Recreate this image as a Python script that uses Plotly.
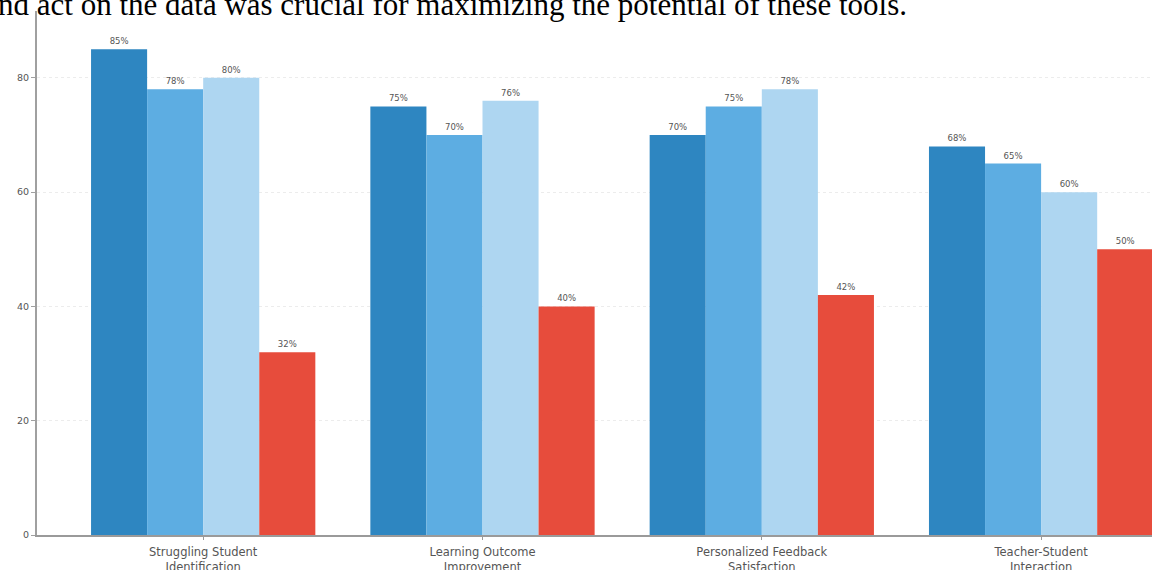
import plotly.graph_objects as go

categories = ["Struggling Student<br>Identification", "Learning Outcome<br>Improvement",
              "Personalized Feedback<br>Satisfaction", "Teacher-Student<br>Interaction"]
series_names = ["Series A", "Series B", "Series C", "Series D"]
series_a = [85, 75, 70, 68]
series_b = [78, 70, 75, 65]
series_c = [80, 76, 78, 60]
series_d = [32, 40, 42, 50]
colors = ["#2E86C1", "#5DADE2", "#AED6F1", "#E74C3C"]
y_ticks = [0, 20, 40, 60, 80]
top_text = "nd act on the data was crucial for maximizing the potential of these tools."

fig = go.Figure()
for name, vals, col in zip(series_names, [series_a, series_b, series_c, series_d], colors):
    fig.add_trace(go.Bar(
        x=categories, y=vals, name=name,
        marker=dict(color=col, line=dict(width=0)),
        text=[f"{v}%" for v in vals], textposition="outside",
        textfont=dict(size=8.5, color="#555555", family="DejaVu Sans"),
        cliponaxis=False,
    ))

fig.update_layout(
    width=1152, height=570,
    margin=dict(l=37, r=0, t=11, b=35, autoexpand=False),
    paper_bgcolor="white", plot_bgcolor="white",
    barmode="group", bargap=0.197, bargroupgap=0,
    showlegend=False,
    font=dict(family="DejaVu Sans", color="#555555"),
    xaxis=dict(
        type="category", range=[-0.595, 3.397], automargin=False,
        showline=True, linecolor="#9a9a9a", linewidth=1.5,
        ticks="outside", ticklen=3, tickcolor="#9a9a9a",
        ticklabelstandoff=2,
        tickfont=dict(size=11.5, color="#555555", family="DejaVu Sans"),
        showgrid=False, zeroline=False,
    ),
    yaxis=dict(
        range=[0, 91.7], tickvals=y_ticks, automargin=False,
        showline=True, linecolor="#a0a0a0", linewidth=2,
        ticks="outside", ticklen=4, tickcolor="#a0a0a0",
        tickfont=dict(size=9.5, color="#555555", family="DejaVu Sans"),
        showgrid=True, gridcolor="#ececec", gridwidth=1, griddash="dot",
        zeroline=False,
    ),
    annotations=[dict(
        text=top_text, xref="paper", yref="paper",
        x=-0.037, y=1.0115, xanchor="left", yanchor="middle",
        showarrow=False,
        font=dict(family="Liberation Serif", size=31, color="black"),
    )],
)

fig.write_html("out.html")
